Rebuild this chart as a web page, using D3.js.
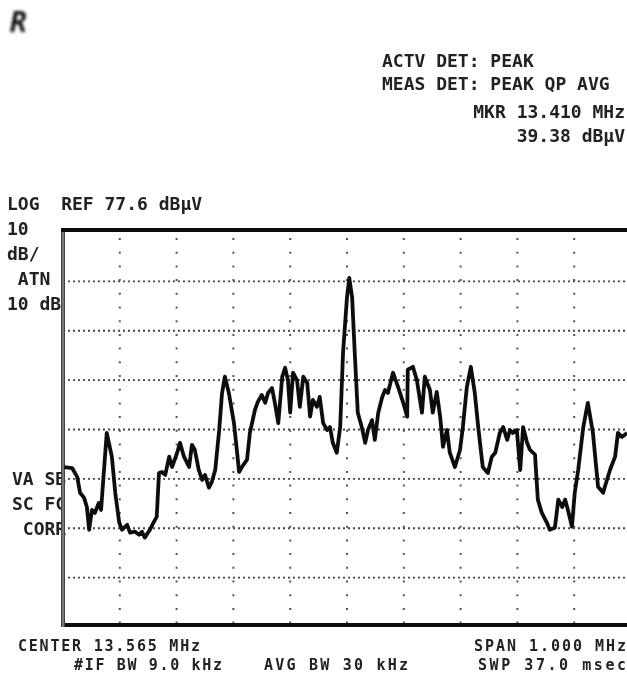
<!DOCTYPE html>
<html>
<head>
<meta charset="utf-8">
<script src="https://cdn.jsdelivr.net/npm/d3@7"></script>
<style>
  body { margin: 0; background: #fff; }
  text { font-family: "DejaVu Sans Mono", monospace; font-weight: bold; fill: #222; }
</style>
</head>
<body>
<script>
// analyzer settings
var centerFreq = 13.565;   // MHz
var spanFreq = 1.000;      // MHz
var refLevel = 77.6;       // dBuV
var dbPerDiv = 10;
var xDivs = 10;
var yDivs = 8;

// trace (MHz, dBuV)
var traceFreq = [
  13.067, 13.081, 13.090, 13.095, 13.102, 13.107, 13.111, 13.116, 13.121, 13.128,
  13.132, 13.142, 13.151, 13.157, 13.164, 13.169, 13.178, 13.183, 13.192, 13.199,
  13.204, 13.209, 13.218, 13.225, 13.230, 13.234, 13.239, 13.245, 13.252, 13.257,
  13.266, 13.271, 13.278, 13.287, 13.292, 13.297, 13.304, 13.310, 13.315, 13.322,
  13.327, 13.333, 13.340, 13.345, 13.350, 13.357, 13.366, 13.371, 13.375, 13.380,
  13.389, 13.394, 13.403, 13.408, 13.415, 13.421, 13.426, 13.433, 13.438, 13.444,
  13.451, 13.456, 13.461, 13.465, 13.470, 13.477, 13.482, 13.488, 13.495, 13.500,
  13.505, 13.512, 13.517, 13.523, 13.530, 13.535, 13.540, 13.547, 13.553, 13.558,
  13.565, 13.569, 13.574, 13.579, 13.584, 13.591, 13.597, 13.602, 13.609, 13.614,
  13.620, 13.627, 13.632, 13.637, 13.646, 13.655, 13.664, 13.671, 13.672, 13.681,
  13.688, 13.697, 13.702, 13.711, 13.716, 13.723, 13.729, 13.734, 13.741, 13.746,
  13.755, 13.764, 13.769, 13.776, 13.783, 13.790, 13.796, 13.804, 13.813, 13.820,
  13.826, 13.834, 13.840, 13.847, 13.852, 13.857, 13.864, 13.870, 13.875, 13.882,
  13.887, 13.896, 13.901, 13.908, 13.917, 13.922, 13.931, 13.937, 13.944, 13.949,
  13.954, 13.961, 13.966, 13.972, 13.981, 13.989, 13.998, 14.007, 14.016, 14.019,
  14.028, 14.037, 14.042, 14.049, 14.058
];
var traceLevel = [
  30.0, 29.8, 28.0, 24.8, 23.8, 21.9, 17.3, 21.3, 20.7, 22.7,
  21.3, 36.9, 32.1, 24.8, 18.7, 17.3, 18.3, 16.7, 16.9, 16.3,
  16.9, 15.7, 17.3, 18.9, 19.9, 28.8, 29.0, 28.4, 32.1, 30.0,
  32.9, 34.9, 32.1, 30.0, 34.5, 33.5, 29.4, 27.4, 28.4, 25.8,
  27.0, 29.4, 37.5, 45.0, 48.3, 45.0, 38.9, 33.5, 29.0, 30.0,
  31.5, 36.9, 41.6, 43.2, 44.6, 43.0, 45.0, 46.0, 43.0, 38.9,
  48.3, 50.1, 47.6, 41.0, 49.1, 47.6, 42.2, 48.3, 47.0, 40.2,
  43.6, 42.2, 44.2, 38.9, 37.5, 38.1, 34.9, 32.9, 38.1, 53.1,
  64.4, 68.3, 64.4, 52.3, 41.0, 38.1, 34.9, 37.5, 39.5, 35.5,
  41.0, 44.2, 45.6, 45.0, 49.1, 46.2, 43.0, 40.2, 49.7, 50.3,
  47.6, 41.0, 48.3, 45.6, 41.0, 45.2, 40.2, 34.1, 37.5, 32.9,
  30.0, 33.5, 38.1, 46.2, 50.3, 45.0, 38.1, 30.0, 28.8, 32.1,
  32.9, 36.9, 38.1, 35.5, 37.5, 36.9, 37.5, 29.4, 38.1, 34.9,
  33.5, 32.5, 23.4, 20.7, 18.7, 17.3, 17.7, 23.4, 21.9, 23.4,
  21.3, 17.9, 24.8, 29.4, 38.1, 43.0, 36.9, 26.0, 24.8, 26.0,
  29.4, 32.1, 36.9, 36.1, 36.9
];

// screen annotations
var topRightLines = ["ACTV DET: PEAK", "MEAS DET: PEAK QP AVG", "MKR 13.410 MHz", "39.38 dB\u03bcV"];
var leftLines = ["LOG  REF 77.6 dB\u03bcV", "10", "dB/", " ATN", "10 dB"];
var leftLowLines = ["VA SB", "SC FC", " CORR"];
var bottomLeft = ["CENTER 13.565 MHz", "#IF BW 9.0 kHz"];
var bottomMid = ["AVG BW 30 kHz"];
var bottomRight = ["SPAN 1.000 MHz", "SWP 37.0 msec"];

var width = 627, height = 688;
var plotLeft = 63, plotRight = 631, plotTop = 232, plotBottom = 627;

var svg = d3.select("body").append("svg")
    .attr("width", width)
    .attr("height", height);

var defs = svg.append("defs");
defs.append("filter").attr("id", "soft")
    .append("feGaussianBlur").attr("stdDeviation", 0.55);
defs.append("filter").attr("id", "blob")
    .append("feGaussianBlur").attr("stdDeviation", 1.5);
defs.append("clipPath").attr("id", "plotclip")
    .append("rect")
    .attr("x", plotLeft).attr("y", plotTop)
    .attr("width", plotRight - plotLeft).attr("height", plotBottom - plotTop);

var x = d3.scaleLinear()
    .domain([centerFreq - spanFreq / 2, centerFreq + spanFreq / 2])
    .range([plotLeft, plotRight]);

var y = d3.scaleLinear()
    .domain([refLevel - dbPerDiv * yDivs, refLevel])
    .range([plotBottom, plotTop]);

var root = svg.append("g").attr("filter", "url(#soft)");

// little mark in the corner of the photo
svg.append("text")
    .attr("x", 10).attr("y", 32)
    .attr("font-size", 28)
    .attr("font-style", "italic")
    .attr("filter", "url(#blob)")
    .style("fill", "#111")
    .text("R");

// graticule
var vTicks = d3.range(1, xDivs).map(function(i){ return x.domain()[0] + i * spanFreq / xDivs; });
var hTicks = d3.range(1, yDivs).map(function(i){ return refLevel - i * dbPerDiv; });

root.append("g").selectAll("line")
    .data(hTicks)
    .enter().append("line")
    .attr("x1", plotLeft).attr("x2", plotRight)
    .attr("y1", function(d){ return y(d); })
    .attr("y2", function(d){ return y(d); })
    .attr("stroke", "#444")
    .attr("stroke-width", 1.8)
    .attr("stroke-dasharray", "2,3");

root.append("g").selectAll("line")
    .data(vTicks)
    .enter().append("line")
    .attr("x1", function(d){ return x(d); })
    .attr("x2", function(d){ return x(d); })
    .attr("y1", plotTop + 6).attr("y2", plotBottom)
    .attr("stroke", "#555")
    .attr("stroke-width", 2)
    .attr("stroke-dasharray", "2,11.7");

// texts
function block(lines, xPos, y0, step, anchor, size, lens){
    root.append("g").selectAll("text")
        .data(lines)
        .enter().append("text")
        .attr("x", xPos)
        .attr("y", function(d, i){ return y0 + i * step; })
        .attr("font-size", size)
        .attr("text-anchor", anchor)
        .attr("textLength", function(d, i){ return lens ? lens[i] : null; })
        .attr("lengthAdjust", "spacing")
        .attr("xml:space", "preserve")
        .style("white-space", "pre")
        .text(function(d){ return d; });
}
block(topRightLines.slice(0, 2), 382, 67, 23, "start", 18);
block(topRightLines.slice(2), 625, 118, 24, "end", 18);
block(leftLines, 7, 210, 25, "start", 18);
block(leftLowLines, 12, 485, 25, "start", 18);
block(bottomLeft.slice(0, 1), 18, 651, 18, "start", 15, [182]);
block(bottomLeft.slice(1), 74, 670, 18, "start", 15, [148]);
block(bottomMid, 264, 670, 18, "start", 15, [144]);
block(bottomRight.slice(0, 1), 474, 651, 18, "start", 15, [152]);
block(bottomRight.slice(1), 478, 670, 18, "start", 15, [148]);

// frame
root.append("rect")
    .attr("x", plotLeft).attr("y", plotTop - 2)
    .attr("width", plotRight - plotLeft).attr("height", plotBottom - plotTop)
    .attr("fill", "none")
    .attr("stroke", "#111")
    .attr("stroke-width", 4);
root.append("line")
    .attr("x1", plotLeft).attr("x2", plotLeft)
    .attr("y1", plotTop).attr("y2", plotBottom)
    .attr("stroke", "#777")
    .attr("stroke-width", 3);

// trace
var line = d3.line()
    .x(function(d, i){ return x(traceFreq[i]); })
    .y(function(d){ return y(d); });

root.append("path")
    .datum(traceLevel)
    .attr("clip-path", "url(#plotclip)")
    .attr("d", line)
    .attr("fill", "none")
    .attr("stroke", "#111")
    .attr("stroke-width", 3.8)
    .attr("stroke-linejoin", "round");
</script>
</body>
</html>
